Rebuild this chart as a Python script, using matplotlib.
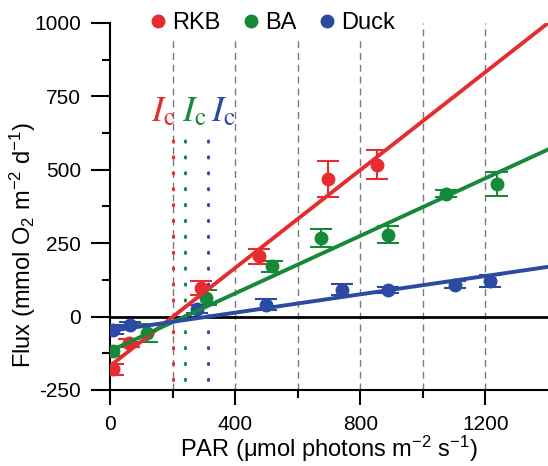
import numpy as np
import matplotlib
matplotlib.use('Agg')
import matplotlib.pyplot as plt
from matplotlib.lines import Line2D

plt.rcParams['font.family'] = ['Liberation Sans', 'DejaVu Sans']
plt.rcParams['mathtext.fontset'] = 'custom'
plt.rcParams['mathtext.rm'] = 'Liberation Sans'
plt.rcParams['mathtext.it'] = 'Liberation Sans:italic'
plt.rcParams['axes.unicode_minus'] = False

# site names and colours
sites = ['RKB', 'BA', 'Duck']
colors = ['#e52d2f', '#16883a', '#2b4aa2']

rkb_par = [10, 60, 292, 476, 698, 853]
rkb_flux = [-180, -90, 98, 205, 469, 517]
rkb_err = [20, 13, 24, 25, 62, 50]

ba_par = [11, 117, 306, 518, 675, 888, 1074, 1236]
ba_flux = [-118, -56, 64, 171, 268, 279, 418, 452]
ba_err = [15, 30, 25, 20, 32, 28, 12, 41]

duck_par = [10, 64, 277, 500, 742, 889, 1104, 1214]
duck_flux = [-44, -27, 26, 41, 92, 92, 109, 120]
duck_err = [15, 10, 15, 18, 18, 10, 12, 20]

# linear fits (slope, intercept)
slopes = [0.834, 0.490, 0.156]
intercepts = [-168, -117, -49]

grid_x = [200, 400, 600, 800, 1000, 1200]

par = [rkb_par, ba_par, duck_par]
flux = [rkb_flux, ba_flux, duck_flux]
errs = [rkb_err, ba_err, duck_err]

fig = plt.figure(figsize=(5.48, 4.66), dpi=100)
ax = fig.add_axes([0.2007, 0.1631, 0.7993, 0.7876])

ax.set_xlim(0, 1400)
ax.set_ylim(-250, 1000)

# dashed grid lines
for gx in grid_x:
    ax.plot([gx, gx], [-250, 1000], color='#7a7a7a', lw=1.0, ls=(0, (5, 3.5)), zorder=1)

# zero line
ax.axhline(0, color='black', lw=2.0, zorder=2)

xfit = np.array([0, 1400])
for i in range(3):
    ax.errorbar(par[i], flux[i], yerr=errs[i], fmt='o', color=colors[i], ms=9,
                elinewidth=1.5, capsize=8, capthick=1.5, zorder=3)
    ax.plot(xfit, slopes[i] * xfit + intercepts[i], color=colors[i], lw=2.8, zorder=4)
    # compensation irradiance
    ic = -intercepts[i] / slopes[i]
    ax.plot([ic, ic], [-215, 620], color=colors[i], lw=2.2,
            ls=(0, (0.4, 4.8)), dash_capstyle='round', zorder=2)

# I_c labels
ic_label_x = [170, 271, 361]
for i in range(3):
    ax.text(ic_label_x[i], 664, r'$I_\mathrm{c}$', math_fontfamily='stix', fontsize=26,
            color=colors[i], ha='center', va='baseline', zorder=5)

# axes styling
ax.spines['top'].set_visible(False)
ax.spines['right'].set_visible(False)
ax.spines['left'].set_linewidth(1.5)
ax.spines['bottom'].set_linewidth(1.5)

ax.set_xticks([0, 400, 800, 1200])
ax.set_xticks([200, 600, 1000], minor=True)
ax.set_yticks([-250, 0, 250, 500, 750, 1000])
ax.set_yticks([-125, 125, 375, 625, 875], minor=True)
ax.tick_params(axis='y', which='major', length=14, width=1.5, pad=7, labelsize=15)
ax.tick_params(axis='x', which='major', length=11, width=1.5, pad=7, labelsize=15)
ax.tick_params(which='minor', length=6, width=1.5)

ax.set_xlabel(r'PAR ($\mathrm{\mu}$mol photons m$^{-2}$ s$^{-1}$)', fontsize=17)
ax.set_ylabel(r'Flux (mmol O$_2$ m$^{-2}$ d$^{-1}$)', fontsize=17)
ax.xaxis.set_label_coords(0.5, -0.12)
ax.yaxis.set_label_coords(-0.165, 0.395)

handles = [Line2D([], [], marker='o', ls='none', color=c, ms=9) for c in colors]
leg = ax.legend(handles, sites, loc='center', bbox_to_anchor=(0.372, 1.0), ncol=3,
                fontsize=17, frameon=True, handlelength=0.6, handletextpad=0.3,
                columnspacing=1.0, borderpad=0.3, fancybox=False)
leg.get_frame().set_facecolor('white')
leg.get_frame().set_edgecolor('none')
leg.get_frame().set_alpha(1)
leg.set_zorder(6)

fig.savefig('out.png', dpi=100)
